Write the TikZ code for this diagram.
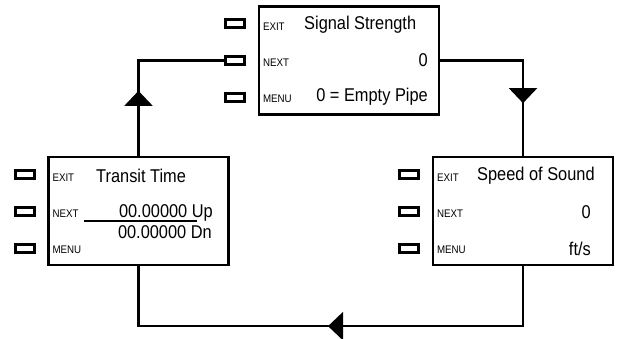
\documentclass[tikz,border=0pt]{standalone}
\usepackage{fontspec}
\setmainfont{Liberation Sans}
\newfontfamily\lcdfont[FakeStretch=0.885]{Liberation Sans}
\usetikzlibrary{arrows.meta,calc,decorations.markings}
\tikzset{
  screen/.style={draw,line width=2.3pt,minimum width=180pt,minimum height=108pt,inner sep=0pt},
  keybtn/.style={draw,line width=3pt,minimum width=19pt,minimum height=8pt,inner sep=0pt},
  keylab/.style={font=\lcdfont\fontsize{11}{12}\selectfont,inner sep=0pt,anchor=base west},
  lcd/.style={font=\lcdfont\fontsize{18.5}{20}\selectfont,inner sep=0pt},
  flow/.style={line width=2.2pt},
  midtip/.style={postaction=decorate,decoration={markings,
    mark=at position #1 with {\arrow{Triangle[width=28pt,length=15pt]}}}},
}

\begin{document}
\begin{tikzpicture}[x=1pt,y=-1pt]
  \useasboundingbox (0,0) rectangle (620,339);

  % ---------- screens ----------
  \node[screen] (sig) at (349,60.5) {};
  \node[screen] (tt)  at (138.5,211) {};
  \node[screen] (sos) at (523,211) {};

  % ---------- keys and key labels ----------
  \foreach \s in {sig,tt,sos}{
    \node[keybtn] (\s-exit) at ($(\s)+(-114,-37)$) {};
    \node[keybtn] (\s-next) at ($(\s)+(-114,0)$) {};
    \node[keybtn] (\s-menu) at ($(\s)+(-114,37)$) {};
    \node[keylab] (\s-exitl) at ($(\s.west)+(5,-30)$) {EXIT};
    \node[keylab] (\s-nextl) at ($(\s.west)+(5,6)$) {NEXT};
    \node[keylab] (\s-menul) at ($(\s.west)+(5,42)$) {MENU};
  }

  % ---------- screen texts ----------
  \node[lcd,anchor=base west] (sig-t)  at (304,30)  {Signal Strength};
  \node[lcd,anchor=base east] (sig-v)  at (428,67)  {0};
  \node[lcd,anchor=base east] (sig-u)  at (428,102) {0 = Empty Pipe};

  \node[lcd,anchor=base west] (tt-t)   at (96,182)  {Transit Time};
  \node[lcd,anchor=base east] (tt-up)  at (213,217) {00.00000 Up};
  \node[lcd,anchor=base east] (tt-dn)  at (212,238) {00.00000 Dn};
  \draw[line width=1.4pt] ($(tt-up.base west)+(-35,4)$) -- ($(tt-up.base east)+(-16,4)$);

  \node[lcd,anchor=base west] (sos-t)  at (477,180) {Speed of Sound};
  \node[lcd,anchor=base east] (sos-v)  at (591,218) {0};
  \node[lcd,anchor=base east] (sos-u)  at (591,255) {ft/s};

  % ---------- menu loop ----------
  \draw[flow,midtip=65pt] (tt.north) |- (sig-next.west);
  \draw[flow,midtip=125.5pt] (sig.east) -| (sos.north);
  \draw[flow,midtip=255pt] (sos.south) -- ++(0,60) -| (tt.south);
\end{tikzpicture}
\end{document}
